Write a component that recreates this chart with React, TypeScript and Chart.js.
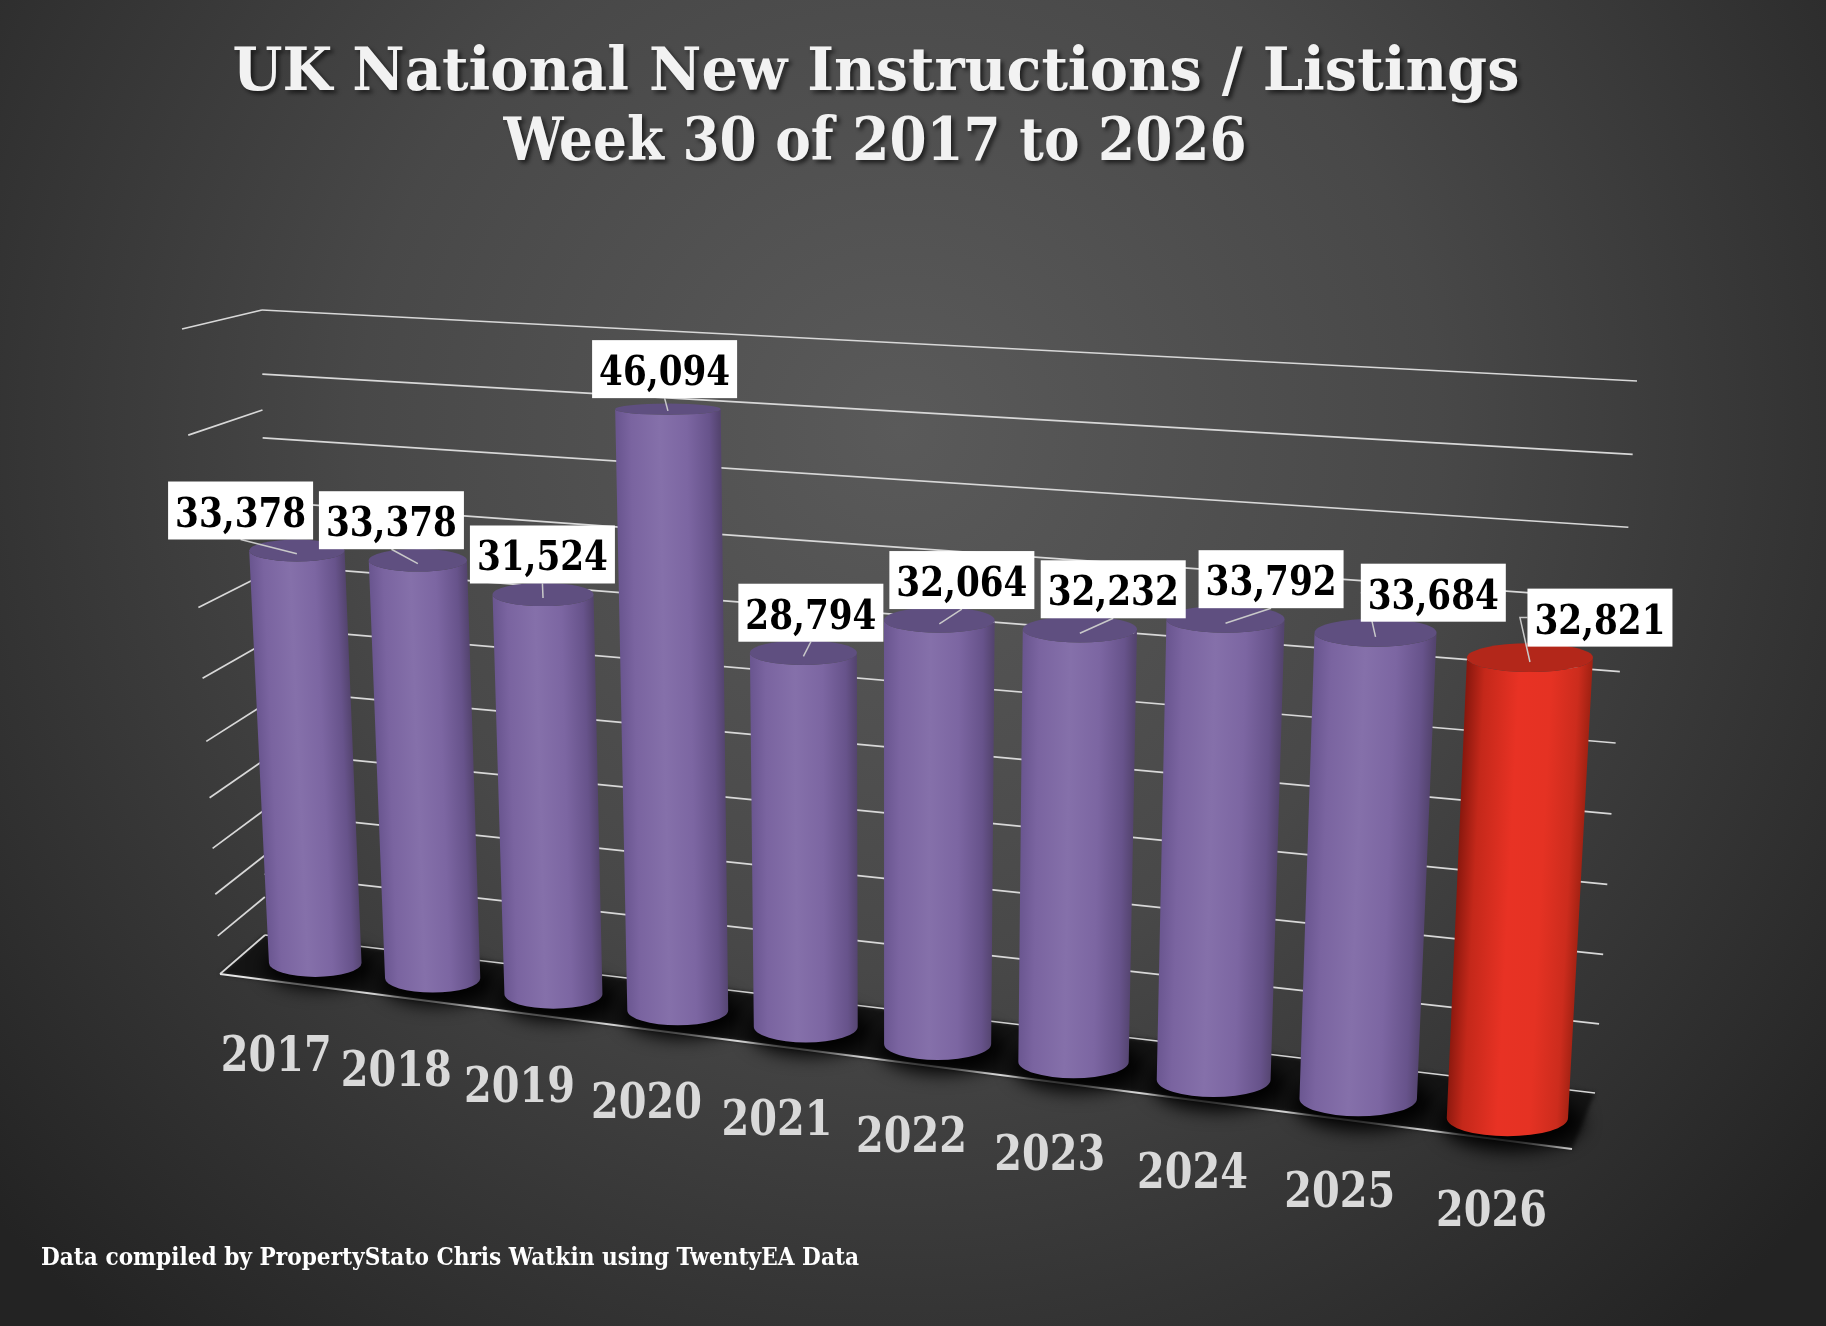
import React, { useEffect, useRef } from 'react';
import { Chart, registerables } from 'chart.js';

Chart.register(...registerables);

// chart data
const years = ['2017', '2018', '2019', '2020', '2021', '2022', '2023', '2024', '2025', '2026'];
const newListings = [33378, 33378, 31524, 46094, 28794, 32064, 32232, 33792, 33684, 32821];
const highlightYear = '2026';
const axisMax = 50000;
const axisStep = 5000;
const titleLines = ['UK National New Instructions / Listings', 'Week 30 of 2017 to 2026'];
const sourceNote = 'Data compiled by PropertyStato Chris Watkin using TwentyEA Data';

type Pt = [number, number];

// maps the unit square (u right, v up) onto a screen quad with perspective
const quadMap = (p00: Pt, p10: Pt, p11: Pt, p01: Pt) => {
  const [x0, y0] = p00;
  const [x1, y1] = p10;
  const [x2, y2] = p11;
  const [x3, y3] = p01;
  const dx1 = x1 - x2, dx2 = x3 - x2, dx3 = x0 - x1 + x2 - x3;
  const dy1 = y1 - y2, dy2 = y3 - y2, dy3 = y0 - y1 + y2 - y3;
  const den = dx1 * dy2 - dx2 * dy1;
  const g = (dx3 * dy2 - dx2 * dy3) / den;
  const h = (dx1 * dy3 - dx3 * dy1) / den;
  const a = x1 - x0 + g * x1, b = x3 - x0 + h * x3;
  const d = y1 - y0 + g * y1, e = y3 - y0 + h * y3;
  return (u: number, v: number): Pt => {
    const w = g * u + h * v + 1;
    return [(a * u + b * v + x0) / w, (d * u + e * v + y0) / w];
  };
};

// the 3d box the chart sits in (screen px)
const barPlane = quadMap([315, 963], [1507, 1118], [1542, 403], [287, 335]);
const backWall = quadMap([265, 935], [1595, 1093], [1637, 381], [262, 310]);
const sideWall = quadMap([220, 974], [265, 935], [262, 310], [182, 329]);
const floorQuad: Pt[] = [[265, 935], [1595, 1093], [1572, 1149], [220, 974]];

const purpleFill = {
  stops: ['#6a5690', '#7a64a0', '#8570aa', '#7c66a2', '#67538b', '#54446f'],
  top: '#5f4f80',
};
const redFill = {
  stops: ['#8a180e', '#c4281a', '#e83224', '#e53223', '#cc2c1d', '#a32213'],
  top: '#b3271a',
};
const stopPos = [0, 0.14, 0.42, 0.68, 0.9, 1];

const fitText = (
  ctx: CanvasRenderingContext2D,
  text: string,
  x: number,
  baseline: number,
  font: string,
  width: number,
  align: 'left' | 'center'
) => {
  ctx.save();
  ctx.font = font;
  const sx = width / ctx.measureText(text).width;
  ctx.translate(align === 'center' ? x - width / 2 : x, baseline);
  ctx.scale(sx, 1);
  ctx.textAlign = 'left';
  ctx.textBaseline = 'alphabetic';
  ctx.fillText(text, 0, 0);
  ctx.restore();
};

const line = (ctx: CanvasRenderingContext2D, a: Pt, b: Pt) => {
  ctx.beginPath();
  ctx.moveTo(a[0], a[1]);
  ctx.lineTo(b[0], b[1]);
  ctx.stroke();
};

const scenePlugin = {
  id: 'scene3d',
  beforeDraw(chart: Chart) {
    const ctx = chart.ctx;
    const W = chart.width;
    const H = chart.height;

    // background
    const bg = ctx.createRadialGradient(900, 430, 0, 900, 430, 1200);
    bg.addColorStop(0, '#5a5a5a');
    bg.addColorStop(0.45, '#484848');
    bg.addColorStop(1, '#232323');
    ctx.fillStyle = bg;
    ctx.fillRect(0, 0, W, H);

    // title + source
    ctx.save();
    ctx.fillStyle = '#f2f2f2';
    ctx.shadowColor = 'rgba(0,0,0,0.6)';
    ctx.shadowOffsetX = 3;
    ctx.shadowOffsetY = 3;
    ctx.shadowBlur = 4;
    fitText(ctx, titleLines[0], 876, 90, 'bold 59px "DejaVu Serif"', 1287, 'center');
    fitText(ctx, titleLines[1], 875, 160, 'bold 59px "DejaVu Serif"', 743, 'center');
    ctx.shadowColor = 'rgba(0,0,0,0)';
    ctx.fillStyle = '#ffffff';
    fitText(ctx, sourceNote, 41, 1265, 'bold 24px "DejaVu Serif"', 818, 'left');
    ctx.restore();

    const ys = chart.scales.y;
    const y0 = ys.getPixelForValue(0);
    const yTop = ys.getPixelForValue(axisMax);

    // floor
    ctx.save();
    ctx.filter = 'blur(2px)';
    ctx.fillStyle = '#141414';
    ctx.beginPath();
    floorQuad.forEach((p, i) => (i ? ctx.lineTo(p[0], p[1]) : ctx.moveTo(p[0], p[1])));
    ctx.closePath();
    ctx.fill();
    ctx.restore();

    // gridlines on back wall and side wall
    ctx.save();
    ctx.strokeStyle = '#d8d8d8';
    ctx.lineWidth = 1.7;
    ys.ticks.forEach((t) => {
      const v = (y0 - ys.getPixelForValue(t.value)) / (y0 - yTop);
      line(ctx, backWall(0, v), backWall(1, v));
      line(ctx, sideWall(0, v), sideWall(1, v));
    });
    ctx.strokeStyle = '#e6e6e6';
    ctx.lineWidth = 2;
    line(ctx, floorQuad[3], floorQuad[2]);
    ctx.restore();
  },

  afterDatasetsDraw(chart: Chart) {
    const ctx = chart.ctx;
    const ys = chart.scales.y;
    const y0 = ys.getPixelForValue(0);
    const yTop = ys.getPixelForValue(axisMax);
    const els = chart.getDatasetMeta(0).data;
    const xFirst = els[0].x;
    const span = els[els.length - 1].x - xFirst;

    const bars = els.map((el, i) => {
      const { x, y, width } = el.getProps(['x', 'y', 'width'], true) as any;
      const u = (x - xFirst) / span;
      const v = (y0 - y) / (y0 - yTop);
      const hw = width / 2 / span;
      const bl = barPlane(u - hw, 0), br = barPlane(u + hw, 0);
      const tl = barPlane(u - hw, v), tr = barPlane(u + hw, v);
      const b: Pt = [(bl[0] + br[0]) / 2, (bl[1] + br[1]) / 2];
      const t: Pt = [(tl[0] + tr[0]) / 2, (tl[1] + tr[1]) / 2];
      const wb = (br[0] - bl[0]) / 2;
      const wt = (tr[0] - tl[0]) / 2;
      const ryb = wb * 0.3;
      const ryt = wt * Math.min(0.23, Math.max(0.06, 0.1 + (t[1] - 402) * 0.001));
      const fill = years[i] === highlightYear ? redFill : purpleFill;
      return { u, b, t, wb, wt, ryb, ryt, fill, value: newListings[i] };
    });

    // floor shadows
    ctx.save();
    ctx.filter = 'blur(9px)';
    ctx.fillStyle = 'rgba(0,0,0,0.95)';
    bars.forEach(({ b, wb, ryb }) => {
      ctx.beginPath();
      ctx.ellipse(b[0] + 4, b[1] + 4, wb * 1.18, ryb * 1.6, 0, 0, Math.PI * 2);
      ctx.fill();
    });
    ctx.restore();

    // cylinders
    bars.forEach(({ b, t, wb, wt, ryb, ryt, fill }) => {
      const ax = t[0] - b[0], ay = t[1] - b[1];
      const len = Math.hypot(ax, ay);
      const px = -ay / len, py = ax / len;
      const mx = (b[0] + t[0]) / 2, my = (b[1] + t[1]) / 2;
      const wm = (wb + wt) / 2;
      const grad = ctx.createLinearGradient(mx - px * wm, my - py * wm, mx + px * wm, my + py * wm);
      fill.stops.forEach((c, k) => grad.addColorStop(stopPos[k], c));

      ctx.beginPath();
      ctx.moveTo(t[0] - wt, t[1]);
      ctx.lineTo(b[0] - wb, b[1]);
      ctx.ellipse(b[0], b[1], wb, ryb, 0, Math.PI, 0, true);
      ctx.lineTo(t[0] + wt, t[1]);
      ctx.ellipse(t[0], t[1], wt, ryt, 0, 0, Math.PI, false);
      ctx.closePath();
      ctx.fillStyle = grad;
      ctx.fill();

      ctx.beginPath();
      ctx.ellipse(t[0], t[1], wt, ryt, 0, 0, Math.PI * 2);
      ctx.fillStyle = fill.top;
      ctx.fill();
    });

    // value labels
    const bw = 145, bh = 58, gap = 6;
    const boxes = bars.map(({ u, t }) => ({ cx: t[0] - 40 + 110 * u, cy: t[1] - 40 }));
    for (let pass = 0; pass < 4; pass++) {
      for (let i = 1; i < boxes.length; i++) {
        const p = boxes[i - 1], c = boxes[i];
        if (Math.abs(p.cy - c.cy) < bh) {
          const overlap = p.cx + bw / 2 + gap - (c.cx - bw / 2);
          if (overlap > 0) {
            p.cx -= overlap / 2;
            c.cx += overlap / 2;
          }
        }
      }
    }

    ctx.save();
    ctx.strokeStyle = '#c9c9c9';
    ctx.lineWidth = 1.5;
    bars.forEach(({ t, ryt }, i) => {
      const { cx, cy } = boxes[i];
      const start: Pt = [t[0], t[1] + ryt * 0.3];
      const left = cx - bw / 2;
      if (Math.abs(t[0] - left) < 20) {
        // elbow leader into the side of the box
        ctx.beginPath();
        ctx.moveTo(start[0], start[1]);
        ctx.lineTo(start[0] - 10, cy);
        ctx.lineTo(left, cy);
        ctx.stroke();
      } else {
        line(ctx, start, [cx, cy + bh / 2]);
      }
    });
    bars.forEach(({ value }, i) => {
      const { cx, cy } = boxes[i];
      ctx.fillStyle = '#ffffff';
      ctx.fillRect(cx - bw / 2, cy - bh / 2, bw, bh);
      ctx.fillStyle = '#000000';
      fitText(ctx, value.toLocaleString('en-GB'), cx, cy + 16, 'bold 41px "DejaVu Serif"', 131, 'center');
    });
    ctx.restore();

    // year labels along the front of the floor
    ctx.save();
    ctx.fillStyle = '#d9d9d9';
    bars.forEach(({ u, b }, i) => {
      fitText(ctx, years[i], b[0] - 39 + 23 * u, b[1] + 108, 'bold 49px "DejaVu Serif"', 111, 'center');
    });
    ctx.restore();
  },
};

const App: React.FC = () => {
  const canvasRef = useRef<HTMLCanvasElement>(null);

  useEffect(() => {
    if (!canvasRef.current) return;
    const chart = new Chart(canvasRef.current, {
      type: 'bar',
      data: {
        labels: years,
        datasets: [
          {
            label: 'New instructions',
            data: newListings,
            backgroundColor: 'rgba(0,0,0,0)',
            borderWidth: 0,
            barPercentage: 0.8,
            categoryPercentage: 1,
          },
        ],
      },
      options: {
        animation: false,
        responsive: true,
        maintainAspectRatio: false,
        events: [],
        plugins: {
          legend: { display: false },
          title: { display: false },
          tooltip: { enabled: false },
        },
        scales: {
          x: { grid: { display: false }, border: { display: false }, ticks: { display: false } },
          y: {
            min: 0,
            max: axisMax,
            grid: { display: false },
            border: { display: false },
            ticks: { display: false, stepSize: axisStep },
          },
        },
      },
      plugins: [scenePlugin],
    });
    return () => chart.destroy();
  }, []);

  return (
    <div style={{ position: 'fixed', left: 0, top: 0, width: 1826, height: 1326 }}>
      <canvas ref={canvasRef}></canvas>
    </div>
  );
};

export default App;
